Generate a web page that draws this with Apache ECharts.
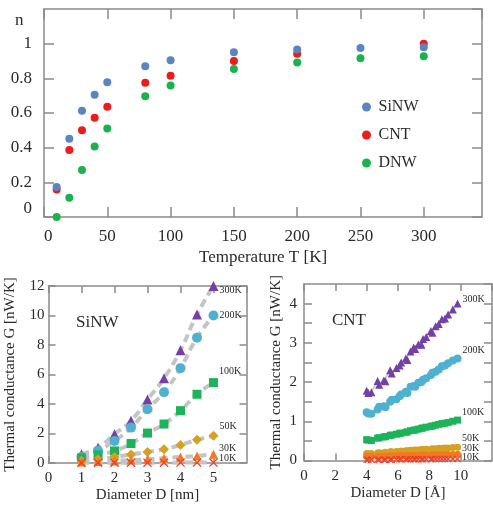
<!DOCTYPE html>
<html><head><meta charset="utf-8">
<script src="https://cdn.jsdelivr.net/npm/echarts@6/dist/echarts.min.js"></script>
<style>html,body{margin:0;padding:0;background:#fff}#c{width:493px;height:505px}</style>
</head><body><div id="c"></div>
<script>
// ---- Top chart data: n vs temperature ----
const tempSiNW = [10, 20, 30, 40, 50, 80, 100, 150, 200, 250, 300];
const nSiNW    = [0.173, 0.452, 0.613, 0.705, 0.777, 0.869, 0.904, 0.950, 0.967, 0.975, 0.979];
const tempCNT  = [10, 20, 30, 40, 50, 80, 100, 150, 200, 300];
const nCNT     = [0.158, 0.387, 0.500, 0.573, 0.636, 0.775, 0.815, 0.900, 0.942, 1.000];
const tempDNW  = [10, 20, 30, 40, 50, 80, 100, 150, 200, 250, 300];
const nDNW     = [0.0, 0.111, 0.271, 0.407, 0.511, 0.696, 0.759, 0.854, 0.891, 0.916, 0.927];
const topNames = ['SiNW', 'CNT', 'DNW'];

// ---- Bottom-left: SiNW conductance vs diameter [nm] ----
const diamSiNW = [1, 1.5, 2, 2.5, 3, 3.5, 4, 4.5, 5];
const si300 = [0.6, 1.04, 1.95, 2.86, 4.3, 5.75, 7.64, 10.07, 12.0];
const si200 = [0.4, 0.85, 1.5, 2.4, 3.65, 4.8, 6.43, 8.5, 10.0];
const si100 = [0.35, 0.55, 0.82, 1.32, 2.03, 2.64, 3.55, 4.66, 5.45];
const si50  = [0.15, 0.25, 0.4, 0.58, 0.75, 0.93, 1.22, 1.57, 1.84];
const si30  = [0.06, 0.1, 0.14, 0.2, 0.25, 0.33, 0.4, 0.48, 0.6];
const si10  = [0.01, 0.01, 0.02, 0.02, 0.02, 0.02, 0.03, 0.03, 0.03];

// ---- Bottom-right: CNT conductance vs diameter [Å] ----
const diamCNT = [4.0, 4.1, 4.3, 4.7, 4.8, 5.1, 5.2, 5.5, 5.6, 5.9, 6.1, 6.2, 6.5, 6.6, 6.8, 7.0, 7.1, 7.3, 7.5, 7.6, 7.8, 8.1, 8.2, 8.4, 8.6, 8.8, 9.0, 9.2, 9.5, 9.8];
const cnt300 = [1.78, 1.72, 1.74, 2.03, 1.93, 2.04, 2.02, 2.30, 2.22, 2.36, 2.42, 2.50, 2.60, 2.56, 2.78, 2.88, 2.84, 2.96, 2.95, 3.10, 3.15, 3.30, 3.26, 3.42, 3.48, 3.60, 3.62, 3.72, 3.85, 4.00];
const cnt200 = [1.23, 1.20, 1.19, 1.30, 1.37, 1.38, 1.36, 1.50, 1.55, 1.56, 1.64, 1.68, 1.75, 1.72, 1.88, 1.90, 1.88, 1.98, 2.00, 2.06, 2.10, 2.18, 2.24, 2.26, 2.32, 2.40, 2.42, 2.48, 2.55, 2.60];
const cnt100 = [0.53, 0.52, 0.51, 0.57, 0.58, 0.60, 0.61, 0.64, 0.65, 0.67, 0.69, 0.70, 0.72, 0.73, 0.76, 0.77, 0.78, 0.80, 0.82, 0.83, 0.85, 0.87, 0.88, 0.90, 0.92, 0.94, 0.95, 0.97, 1.00, 1.03];
const cnt50  = [0.18, 0.17, 0.18, 0.19, 0.20, 0.20, 0.21, 0.22, 0.22, 0.23, 0.23, 0.24, 0.25, 0.25, 0.26, 0.26, 0.27, 0.27, 0.28, 0.28, 0.29, 0.29, 0.30, 0.30, 0.31, 0.31, 0.32, 0.32, 0.33, 0.34];
const cnt30  = [0.10, 0.10, 0.10, 0.11, 0.11, 0.11, 0.11, 0.12, 0.12, 0.12, 0.12, 0.12, 0.13, 0.13, 0.13, 0.13, 0.13, 0.13, 0.14, 0.14, 0.14, 0.14, 0.14, 0.14, 0.15, 0.15, 0.15, 0.15, 0.15, 0.16];
const cnt10  = [0.02, 0.02, 0.02, 0.02, 0.02, 0.02, 0.02, 0.02, 0.02, 0.03, 0.03, 0.03, 0.03, 0.03, 0.03, 0.03, 0.03, 0.03, 0.03, 0.03, 0.03, 0.03, 0.04, 0.04, 0.04, 0.04, 0.04, 0.04, 0.04, 0.04];
const tempLabels = ['300K', '200K', '100K', '50K', '30K', '10K'];

// ---- styles ----
const FONT = '"Liberation Serif", "DejaVu Serif", serif';
const FRAME = '#8a8a8a';
const TXT = '#2a2a2a';
const topColors = ['#5b84c2', '#ec1c1c', '#1db14e'];
const tColors = ['#7440a8', '#4fb0d0', '#1db35a', '#d6a021', '#f07a22', '#f03c28'];
const xMark = 'path://M1,0L5,4L9,0L10,1L6,5L10,9L9,10L5,6L1,10L0,9L4,5L0,1Z';
const siSymbols = ['triangle', 'circle', 'rect', 'diamond', 'triangle', xMark];
const siSizes = [10, 10, 9, 10, 9, 9];
const cntSymbols = ['triangle', 'circle', 'rect', 'circle', 'circle', xMark];
const siLabelOffsets = [[0, 4], [0, 0], [0, -11], [0, -9], [0, -6], [0, -4]];
const cntLabelOffsets = [[0, -4], [0, -8], [0, -8], [0, -9], [0, -6], [0, -2]];

function frameAxis(gridIndex, pos, min, max, interval, tickLen) {
  return {
    gridIndex, position: pos, type: 'value', min, max, interval,
    axisLine: { show: true, onZero: false, lineStyle: { color: FRAME, width: 1.5 } },
    axisTick: { show: true, inside: true, length: tickLen, lineStyle: { color: FRAME, width: 1.5 } },
    axisLabel: { show: false }, splitLine: { show: false }
  };
}
function mainAxis(gridIndex, pos, min, max, interval, tickLen, fontSize, margin, extra) {
  const a = frameAxis(gridIndex, pos, min, max, interval, tickLen);
  a.axisLabel = Object.assign({ show: true, showMaxLabel: false, color: TXT, fontFamily: FONT, fontSize, margin }, extra || {});
  return a;
}

const xAxes = [
  Object.assign(mainAxis(0, 'bottom', 0, 346, 50, 10, 17, 11, { alignMinLabel: 'left' }), {
    name: 'Temperature T [K]', nameLocation: 'middle', nameGap: 32,
    nameTextStyle: { fontFamily: FONT, fontSize: 17, color: TXT }
  }),
  frameAxis(0, 'top', 0, 346, 50, 10),
  Object.assign(mainAxis(1, 'bottom', 0, 6, 1, 7, 15, 8), {
    name: 'Diameter D [nm]', nameLocation: 'middle', nameGap: 25,
    nameTextStyle: { fontFamily: FONT, fontSize: 15, color: TXT }
  }),
  frameAxis(1, 'top', 0, 6, 1, 7),
  Object.assign(mainAxis(2, 'bottom', 0, 12, 2, 7, 15, 8), {
    name: 'Diameter D [Å]', nameLocation: 'middle', nameGap: 25,
    nameTextStyle: { fontFamily: FONT, fontSize: 15, color: TXT }
  }),
  frameAxis(2, 'top', 0, 12, 2, 7)
];
const yAxes = [
  mainAxis(0, 'left', 0, 1.2, 0.2, 10, 17, 12, { verticalAlignMinLabel: 'bottom' }),
  frameAxis(0, 'right', 0, 1.2, 0.2, 10),
  Object.assign(mainAxis(1, 'left', 0, 12, 2, 7, 15, 4, { showMaxLabel: true }), {
    name: 'Thermal conductance G [nW/K]', nameLocation: 'middle', nameGap: 31,
    nameTextStyle: { fontFamily: FONT, fontSize: 15, color: TXT }
  }),
  frameAxis(1, 'right', 0, 12, 2, 7),
  Object.assign(mainAxis(2, 'left', 0, 4.5, 0.5, 8, 15, 7, {
    formatter: v => (Math.abs(v - Math.round(v)) < 1e-9 ? String(Math.round(v)) : '')
  }), {
    name: 'Thermal conductance G [nW/K]', nameLocation: 'middle', nameGap: 20,
    nameTextStyle: { fontFamily: FONT, fontSize: 15, color: TXT }
  }),
  frameAxis(2, 'right', 0, 4.5, 0.5, 8)
];

const series = [];
// top chart scatter
[[tempSiNW, nSiNW], [tempCNT, nCNT], [tempDNW, nDNW]].forEach((pair, i) => {
  series.push({
    name: topNames[i], type: 'scatter', xAxisIndex: 0, yAxisIndex: 0,
    symbol: 'circle', symbolSize: 8, itemStyle: { color: topColors[i], opacity: 1 },
    data: pair[0].map((t, j) => [t, pair[1][j]]), z: 3 + (2 - i)
  });
});

function tempSeries(xs, ysList, xi, yi, symbols, sizes, offsets, lineStyle, smooth) {
  ysList.forEach((ys, i) => {
    const pts = xs.map((x, j) => [x, ys[j]]);
    series.push({
      type: 'line', xAxisIndex: xi, yAxisIndex: yi, data: pts, showSymbol: false, smooth,
      lineStyle, z: 1, silent: true
    });
    series.push({
      type: 'scatter', xAxisIndex: xi, yAxisIndex: yi, symbol: symbols[i], symbolSize: sizes[i],
      itemStyle: { color: tColors[i], opacity: 1 }, z: 3,
      data: pts.map((p, j) => j === pts.length - 1 ? {
        value: p,
        label: { show: true, position: 'right', distance: 1, offset: offsets[i], formatter: tempLabels[i],
          fontFamily: FONT, fontSize: 10, color: TXT }
      } : p)
    });
  });
}
tempSeries(diamSiNW, [si300, si200, si100, si50, si30, si10], 2, 2, siSymbols, siSizes, siLabelOffsets,
  { color: '#c4c4c4', width: 4, type: [8, 5] }, true);
tempSeries(diamCNT, [cnt300, cnt200, cnt100, cnt50, cnt30, cnt10], 4, 4, cntSymbols, [8, 8, 7, 7, 7, 7], cntLabelOffsets,
  { color: '#cfcfcf', width: 2 }, false);

const option = {
  animation: false,
  backgroundColor: '#fff',
  textStyle: { fontFamily: FONT },
  title: [
    { text: 'n', left: 10, top: 7, textStyle: { fontFamily: FONT, fontSize: 17, fontWeight: 'normal', color: TXT } },
    { text: 'SiNW', left: 71, top: 309, textStyle: { fontFamily: FONT, fontSize: 17, fontWeight: 'normal', color: TXT } },
    { text: 'CNT', left: 327, top: 307, textStyle: { fontFamily: FONT, fontSize: 17, fontWeight: 'normal', color: TXT } }
  ],
  legend: {
    data: topNames, orient: 'vertical', left: 357, top: 94, itemGap: 12,
    icon: 'circle', itemWidth: 14, itemHeight: 9,
    textStyle: { fontFamily: FONT, fontSize: 16, color: TXT }
  },
  grid: [
    { left: 44, top: 9, width: 438, height: 208 },
    { left: 48.5, top: 286, width: 198, height: 177 },
    { left: 304, top: 284, width: 188, height: 176.5 }
  ],
  xAxis: xAxes,
  yAxis: yAxes,
  series
};
const chart = echarts.init(document.getElementById('c'), null, { renderer: 'canvas' });
chart.setOption(option);
</script></body></html>
